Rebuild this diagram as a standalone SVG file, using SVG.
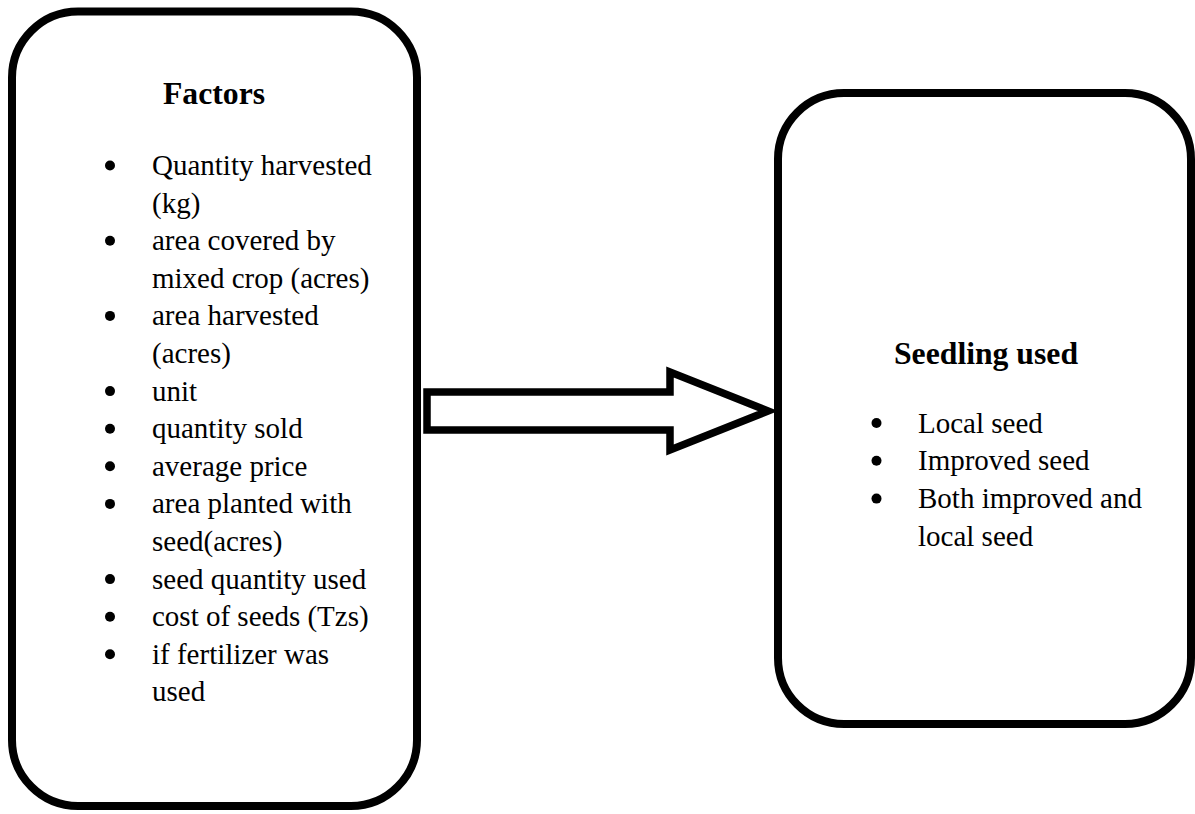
<svg xmlns="http://www.w3.org/2000/svg" width="1195" height="814" viewBox="0 0 1195 814">
<style>
.box{fill:#fff;stroke:#000;stroke-width:8}
.arrow{fill:#fff;stroke:#000;stroke-width:7.5;stroke-linejoin:miter}
.t{font-family:"Liberation Serif","Times New Roman",serif;font-size:29px;fill:#000}
.h{font-family:"Liberation Serif","Times New Roman",serif;font-size:31.7px;font-weight:bold;fill:#000}
.b{fill:#000}
</style>
<rect width="1195" height="814" fill="#fff"/>
<g id="factors">
<rect class="box" x="12" y="11.5" width="405" height="794.5" rx="66" ry="66"/>
<text class="h" x="163" y="104">Factors</text>
<g class="t">
<text x="152" y="175">Quantity harvested</text>
<text x="152" y="212.6">(kg)</text>
<text x="152" y="250.2">area covered by</text>
<text x="152" y="287.8">mixed crop (acres)</text>
<text x="152" y="325.4">area harvested</text>
<text x="152" y="363">(acres)</text>
<text x="152" y="400.6">unit</text>
<text x="152" y="438.2">quantity sold</text>
<text x="152" y="475.8">average price</text>
<text x="152" y="513.4">area planted with</text>
<text x="152" y="551">seed(acres)</text>
<text x="152" y="588.6">seed quantity used</text>
<text x="152" y="626.2">cost of seeds (Tzs)</text>
<text x="152" y="663.8">if fertilizer was</text>
<text x="152" y="701.4">used</text>
</g>
<g class="b">
<circle cx="110" cy="165.5" r="5"/>
<circle cx="110" cy="240.7" r="5"/>
<circle cx="110" cy="315.9" r="5"/>
<circle cx="110" cy="391.1" r="5"/>
<circle cx="110" cy="428.7" r="5"/>
<circle cx="110" cy="466.3" r="5"/>
<circle cx="110" cy="503.9" r="5"/>
<circle cx="110" cy="579.1" r="5"/>
<circle cx="110" cy="616.7" r="5"/>
<circle cx="110" cy="654.3" r="5"/>
</g>
</g>
<g id="connectors">
<polygon class="arrow" points="427,392 670,392 670,372 768,411 670,450 670,430 427,430"/>
</g>
<g id="seedling">
<rect class="box" x="778" y="93" width="413" height="631" rx="66" ry="66"/>
<text class="h" x="894" y="364">Seedling used</text>
<g class="t">
<text x="918" y="432.5">Local seed</text>
<text x="918" y="470.3">Improved seed</text>
<text x="918" y="508.1">Both improved and</text>
<text x="918" y="545.9">local seed</text>
</g>
<g class="b">
<circle cx="876.5" cy="423" r="5"/>
<circle cx="876.5" cy="460.8" r="5"/>
<circle cx="876.5" cy="498.6" r="5"/>
</g>
</g>
</svg>
